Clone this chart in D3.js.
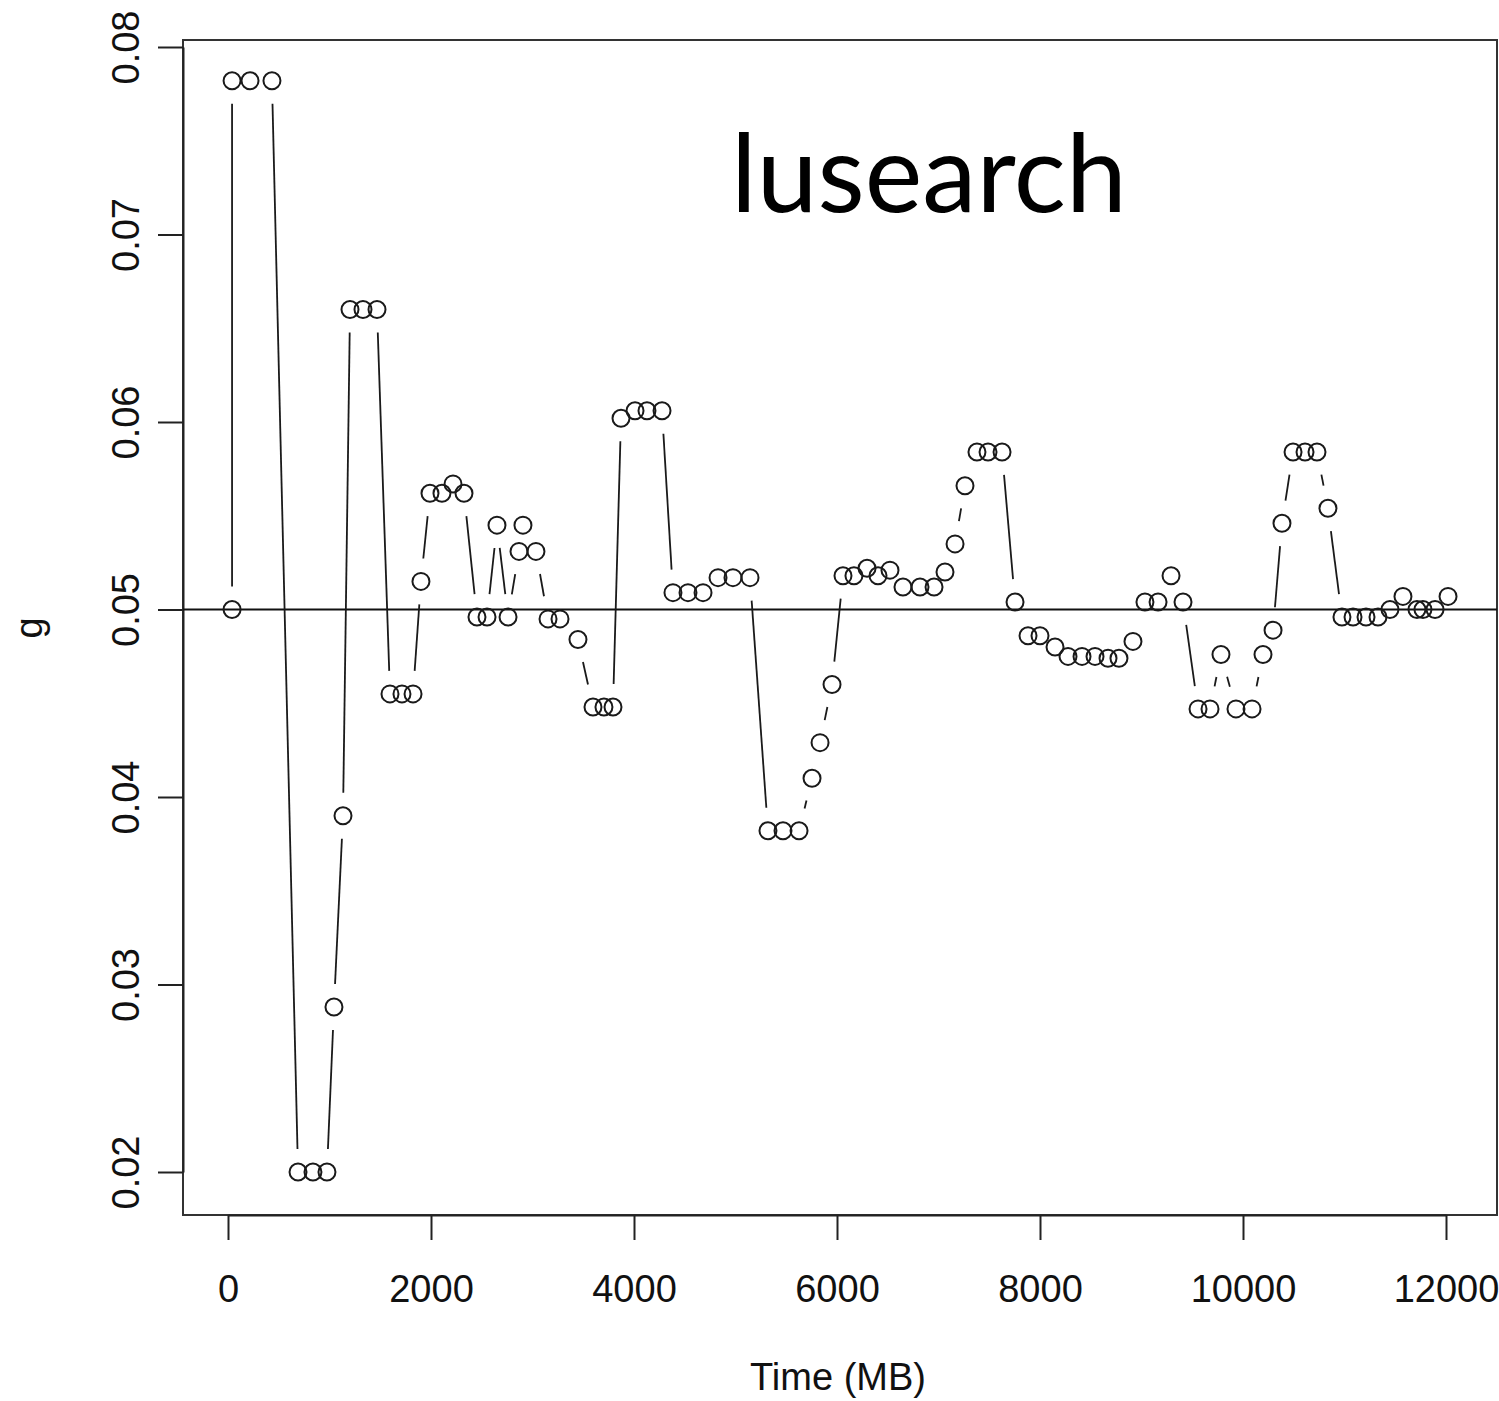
<!DOCTYPE html>
<html>
<head>
<meta charset="utf-8">
<script src="https://cdn.jsdelivr.net/npm/d3@7"></script>
<style>
  body { margin: 0; background: #fff; }
  .axis text { font-family: "Liberation Sans", Arial, sans-serif; font-size: 38px; fill: #111; }
  .axis path, .axis line { stroke: #222; stroke-width: 2; }
</style>
</head>
<body>
<div id="chart"></div>
<script>
// time (MB) of each sample
var timeMB = [40, 40, 217, 433, 690, 837, 975, 1044, 1133, 1202, 1330, 1468,
    1596, 1714, 1823, 1901, 1990, 2108, 2217, 2325, 2453, 2552, 2650, 2759,
    2867, 2906, 3034, 3153, 3271, 3448, 3596, 3704, 3793, 3872, 4010, 4128,
    4276, 4384, 4532, 4680, 4828, 4975, 5143, 5320, 5468, 5626, 5754, 5833,
    5951, 6059, 6167, 6296, 6404, 6522, 6650, 6818, 6956, 7064, 7163, 7261,
    7379, 7488, 7626, 7754, 7882, 8000, 8148, 8276, 8414, 8542, 8670, 8778,
    8916, 9034, 9163, 9291, 9409, 9557, 9675, 9783, 9931, 10089, 10197, 10296,
    10384, 10493, 10611, 10729, 10837, 10975, 11084, 11212, 11330, 11448,
    11576, 11714, 11773, 11892, 12020];
// g value at each sample
var gValues = [0.0500, 0.0782, 0.0782, 0.0782, 0.0200, 0.0200, 0.0200, 0.0288,
    0.0390, 0.0660, 0.0660, 0.0660, 0.0455, 0.0455, 0.0455, 0.0515, 0.0562,
    0.0562, 0.0567, 0.0562, 0.0496, 0.0496, 0.0545, 0.0496, 0.0531, 0.0545,
    0.0531, 0.0495, 0.0495, 0.0484, 0.0448, 0.0448, 0.0448, 0.0602, 0.0606,
    0.0606, 0.0606, 0.0509, 0.0509, 0.0509, 0.0517, 0.0517, 0.0517, 0.0382,
    0.0382, 0.0382, 0.0410, 0.0429, 0.0460, 0.0518, 0.0518, 0.0522, 0.0518,
    0.0521, 0.0512, 0.0512, 0.0512, 0.0520, 0.0535, 0.0566, 0.0584, 0.0584,
    0.0584, 0.0504, 0.0486, 0.0486, 0.0480, 0.0475, 0.0475, 0.0475, 0.0474,
    0.0474, 0.0483, 0.0504, 0.0504, 0.0518, 0.0504, 0.0447, 0.0447, 0.0476,
    0.0447, 0.0447, 0.0476, 0.0489, 0.0546, 0.0584, 0.0584, 0.0584, 0.0554,
    0.0496, 0.0496, 0.0496, 0.0496, 0.0500, 0.0507, 0.0500, 0.0500, 0.0500,
    0.0507];
var xTicks = [0, 2000, 4000, 6000, 8000, 10000, 12000];
var yTicks = [0.02, 0.03, 0.04, 0.05, 0.06, 0.07, 0.08];
var refLine = 0.05;
var title = "lusearch";

var svgWidth = 1499;
var svgHeight = 1401;
var box = {left: 183, top: 40, right: 1497, bottom: 1215};

var svg = d3.select("#chart")
    .append("svg")
    .attr("width", svgWidth)
    .attr("height", svgHeight);

var x = d3.scaleLinear().domain([0, 12000]).range([228, 1446]);
var y = d3.scaleLinear().domain([0.02, 0.08]).range([1172, 47]);

var data = timeMB.map(function (t, i) { return {t: t, g: gValues[i]}; });

// plot frame
svg.append("rect")
    .attr("x", box.left)
    .attr("y", box.top)
    .attr("width", box.right - box.left)
    .attr("height", box.bottom - box.top)
    .attr("fill", "none")
    .attr("stroke", "#333")
    .attr("stroke-width", 2);

// axes, R style
var yAxis = d3.axisLeft(y).tickValues(yTicks).tickSize(25).tickSizeOuter(0)
    .tickFormat(d3.format(".2f"));
var gy = svg.append("g")
    .attr("class", "axis")
    .attr("transform", "translate(" + box.left + ",0)")
    .call(yAxis);
gy.selectAll(".tick text")
    .attr("x", 0)
    .attr("dy", 0)
    .attr("text-anchor", "middle")
    .attr("transform", "translate(-44,0) rotate(-90)");

var xAxis = d3.axisBottom(x).tickValues(xTicks).tickSize(25).tickSizeOuter(0)
    .tickFormat(d3.format("d"));
var gx = svg.append("g")
    .attr("class", "axis")
    .attr("transform", "translate(0," + box.bottom + ")")
    .call(xAxis);
gx.selectAll(".tick text")
    .attr("y", 87)
    .attr("dy", 0);

// axis titles
svg.append("text")
    .attr("x", 838)
    .attr("y", 1390)
    .attr("text-anchor", "middle")
    .style("font-family", "'Liberation Sans', Arial, sans-serif")
    .style("font-size", "38px")
    .style("fill", "#111")
    .text("Time (MB)");

svg.append("text")
    .attr("transform", "translate(42,628) rotate(-90)")
    .attr("text-anchor", "middle")
    .style("font-family", "'Liberation Sans', Arial, sans-serif")
    .style("font-size", "38px")
    .style("fill", "#111")
    .text("g");

// reference line at g = 0.05
svg.append("line")
    .attr("x1", box.left)
    .attr("x2", box.right)
    .attr("y1", y(refLine))
    .attr("y2", y(refLine))
    .attr("stroke", "#111")
    .attr("stroke-width", 2);

// type "b": segments with gaps round each point
var gap = 23;
var segs = [];
for (var i = 1; i < data.length; i++) {
    var x1 = x(data[i - 1].t), y1 = y(data[i - 1].g);
    var x2 = x(data[i].t), y2 = y(data[i].g);
    var dx = x2 - x1, dy = y2 - y1;
    var len = Math.sqrt(dx * dx + dy * dy);
    if (len > 2 * gap) {
        segs.push({
            x1: x1 + dx / len * gap, y1: y1 + dy / len * gap,
            x2: x2 - dx / len * gap, y2: y2 - dy / len * gap
        });
    }
}
svg.append("g")
    .selectAll("line")
    .data(segs)
    .join("line")
    .attr("x1", d => d.x1)
    .attr("y1", d => d.y1)
    .attr("x2", d => d.x2)
    .attr("y2", d => d.y2)
    .attr("stroke", "#1a1a1a")
    .attr("stroke-width", 1.8);

svg.append("g")
    .selectAll("circle")
    .data(data)
    .join("circle")
    .attr("cx", d => x(d.t))
    .attr("cy", d => y(d.g))
    .attr("r", 8.5)
    .attr("fill", "none")
    .attr("stroke", "#1a1a1a")
    .attr("stroke-width", 2);

// title inside the plot
svg.append("text")
    .attr("x", 731)
    .attr("y", 212)
    .style("font-family", "Lato, 'Open Sans', sans-serif")
    .style("font-size", "109px")
    .style("fill", "#000")
    .text(title);
</script>
</body>
</html>
